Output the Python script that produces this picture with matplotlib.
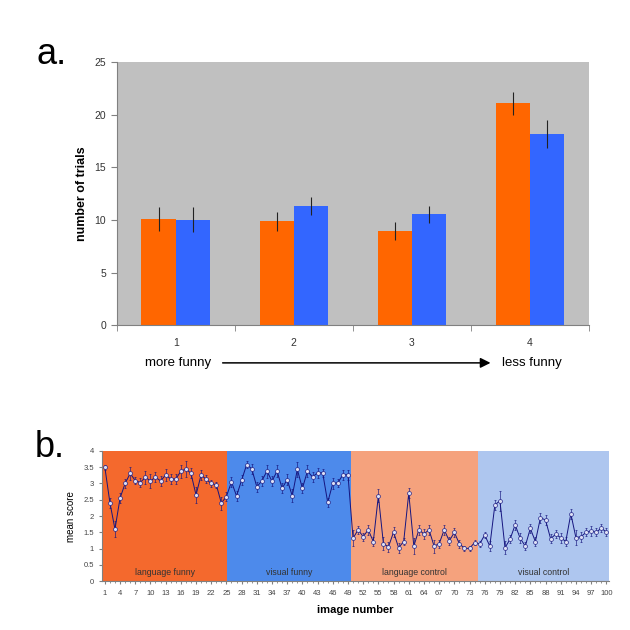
import numpy as np
import matplotlib
matplotlib.use("Agg")
import matplotlib.pyplot as plt

plt.rcParams['font.family'] = ['Liberation Sans', 'DejaVu Sans']

# ---- panel a data ----
categories = ['1', '2', '3', '4']
orange_vals = [10.1, 9.87, 8.95, 21.1]
orange_err = [1.14, 0.87, 0.89, 1.11]
blue_vals = [10.03, 11.33, 10.53, 18.15]
blue_err = [1.17, 0.83, 0.84, 1.32]

# ---- panel b data ----
image_numbers = np.arange(1, 101)
mean_scores = [
    3.50, 2.41, 1.60, 2.55, 3.00, 3.31, 3.09, 3.03, 3.19, 3.08,
    3.19, 3.08, 3.26, 3.14, 3.14, 3.37, 3.45, 3.31, 2.65, 3.26,
    3.13, 3.00, 2.96, 2.40, 2.60, 3.05, 2.62, 3.10, 3.58, 3.45,
    2.90, 3.08, 3.38, 3.07, 3.38, 2.85, 3.12, 2.62, 3.43, 2.85,
    3.38, 3.20, 3.33, 3.33, 2.42, 3.00, 3.02, 3.27, 3.27, 1.32,
    1.58, 1.37, 1.58, 1.22, 2.62, 1.15, 1.06, 1.51, 1.03, 1.22,
    2.70, 1.08, 1.58, 1.45, 1.58, 1.08, 1.15, 1.58, 1.24, 1.50,
    1.15, 1.01, 1.01, 1.19, 1.15, 1.42, 1.08, 2.34, 2.47, 1.03,
    1.29, 1.73, 1.32, 1.08, 1.62, 1.22, 1.95, 1.88, 1.31, 1.44,
    1.34, 1.22, 2.07, 1.34, 1.37, 1.50, 1.55, 1.50, 1.63, 1.51,
]
score_err = [
    0.08, 0.15, 0.25, 0.15, 0.15, 0.20, 0.12, 0.15, 0.20, 0.22,
    0.15, 0.15, 0.18, 0.15, 0.15, 0.20, 0.25, 0.15, 0.25, 0.15,
    0.12, 0.10, 0.10, 0.20, 0.15, 0.15, 0.15, 0.15, 0.10, 0.15,
    0.15, 0.15, 0.20, 0.15, 0.18, 0.15, 0.18, 0.20, 0.22, 0.15,
    0.18, 0.15, 0.15, 0.12, 0.15, 0.18, 0.12, 0.15, 0.15, 0.25,
    0.12, 0.12, 0.15, 0.15, 0.20, 0.20, 0.15, 0.15, 0.15, 0.12,
    0.15, 0.25, 0.15, 0.15, 0.15, 0.20, 0.12, 0.15, 0.12, 0.15,
    0.12, 0.08, 0.08, 0.08, 0.10, 0.10, 0.15, 0.15, 0.30, 0.20,
    0.12, 0.15, 0.15, 0.12, 0.15, 0.15, 0.15, 0.15, 0.15, 0.12,
    0.15, 0.15, 0.15, 0.22, 0.15, 0.12, 0.15, 0.12, 0.12, 0.12,
]
region_edges = [0.5, 25.1, 49.5, 74.6, 100.5]
region_names = ['language funny', 'visual funny', 'language control', 'visual control']
region_colors = ['#F4692D', '#4D8AEB', '#F5A27D', '#AEC6EF']

fig = plt.figure(figsize=(6.3, 6.3), dpi=100)

# ================= panel a =================
ax1 = fig.add_axes([0.1852, 0.484, 0.7497, 0.417])
x = np.arange(len(categories)) + 1
w = 0.29
ax1.bar(x - w / 2, orange_vals, w, color='#FF6600', linewidth=0)
ax1.bar(x + w / 2, blue_vals, w, color='#3366FF', linewidth=0)
ax1.errorbar(x - w / 2, orange_vals, yerr=orange_err, fmt='none', ecolor='#222222', elinewidth=0.8)
ax1.errorbar(x + w / 2, blue_vals, yerr=blue_err, fmt='none', ecolor='#222222', elinewidth=0.8)
ax1.set_facecolor('#C0C0C0')
ax1.set_xlim(0.5, 4.5)
ax1.set_ylim(0, 25)
ax1.set_yticks([0, 5, 10, 15, 20, 25])
ax1.set_xticks(x)
ax1.set_xticklabels(categories)
ax1.set_xticks(np.arange(0.5, 4.6, 1), minor=True)
ax1.tick_params(axis='x', which='major', length=0, pad=9, labelsize=7.5, labelcolor='#333333')
ax1.tick_params(axis='x', which='minor', length=4, color='#808080')
ax1.tick_params(axis='y', length=4, color='#808080', labelsize=7.5, labelcolor='#333333')
for s in ['top', 'right']:
    ax1.spines[s].set_visible(False)
for s in ['left', 'bottom']:
    ax1.spines[s].set_color('#808080')
ax1.set_ylabel('number of trials', fontsize=9, fontweight='bold', labelpad=5)

fig.text(0.058, 0.914, 'a.', fontsize=26, ha='left', va='center')
fig.text(0.23, 0.424, 'more funny', fontsize=9.5, ha='left', va='center')
fig.text(0.797, 0.424, 'less funny', fontsize=9.5, ha='left', va='center')
fig.add_artist(matplotlib.patches.FancyArrowPatch(
    (0.349, 0.424), (0.783, 0.424), transform=fig.transFigure,
    arrowstyle='-|>,head_length=6,head_width=3', color='black', linewidth=1.1))

# ================= panel b =================
ax2 = fig.add_axes([0.1624, 0.0773, 0.804, 0.207])
for i in range(len(region_names)):
    ax2.axvspan(region_edges[i], region_edges[i + 1], color=region_colors[i], linewidth=0)
    ax2.text((region_edges[i] + region_edges[i + 1]) / 2, 0.27, region_names[i],
             fontsize=6.3, ha='center', va='center', color='#333333')
ax2.errorbar(image_numbers, mean_scores, yerr=score_err, fmt='-', color='#15157F',
             ecolor='#15157F', elinewidth=0.45, capsize=1.0, capthick=0.45, linewidth=0.7,
             marker='o', markersize=2.8, markerfacecolor='#DDE0F5',
             markeredgecolor='#15157F', markeredgewidth=0.45)
ax2.set_xlim(0.5, 100.5)
ax2.set_ylim(0, 4)
ax2.set_yticks(np.arange(0, 4.01, 0.5))
ax2.set_yticklabels(['0', '0.5', '1', '1.5', '2', '2.5', '3', '3.5', '4'])
ax2.set_xticks(np.arange(1, 101, 3))
ax2.set_xticks(np.arange(1, 101, 1), minor=True)
ax2.tick_params(axis='x', which='major', length=2.5, labelsize=5.5, labelcolor='#444444', color='#808080')
ax2.tick_params(axis='x', which='minor', length=1.5, color='#808080')
ax2.tick_params(axis='y', length=2.5, labelsize=5.5, labelcolor='#444444', color='#808080')
for s in ['top', 'right']:
    ax2.spines[s].set_visible(False)
for s in ['left', 'bottom']:
    ax2.spines[s].set_color('#808080')
ax2.set_ylabel('mean score', fontsize=7, labelpad=5)
ax2.set_xlabel('image number', fontsize=8, fontweight='bold', labelpad=6)

fig.text(0.055, 0.29, 'b.', fontsize=26, ha='left', va='center')

fig.savefig('out.png', dpi=100)
